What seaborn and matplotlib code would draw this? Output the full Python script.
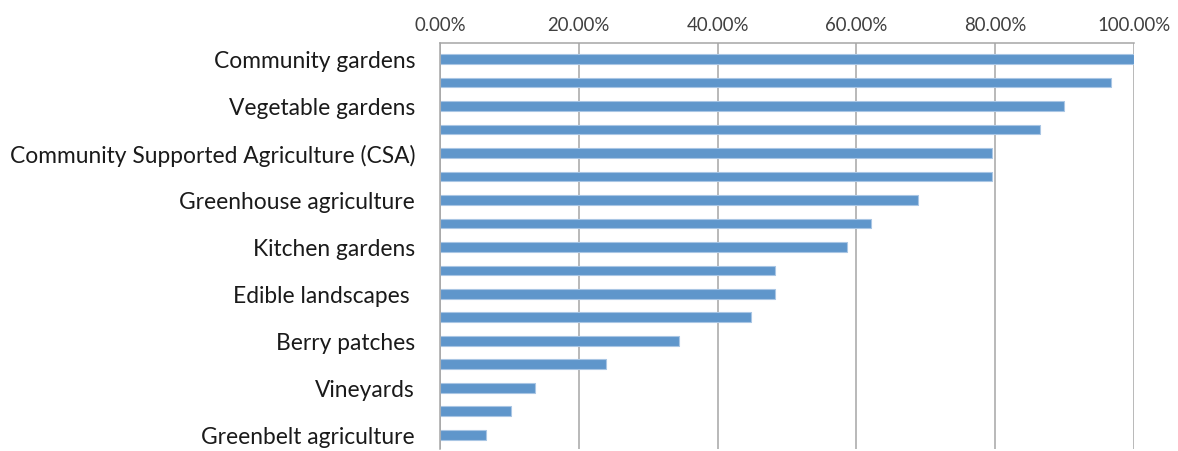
import numpy as np
import pandas as pd
import matplotlib
matplotlib.use("Agg")
import matplotlib.pyplot as plt
import seaborn as sns
from matplotlib.ticker import PercentFormatter, FixedLocator

# Excel only labelled every other category; the blanks are unlabelled rows
labels = [
    "Community gardens", "",
    "Vegetable gardens", "",
    "Community Supported Agriculture (CSA)", "",
    "Greenhouse agriculture", "",
    "Kitchen gardens", "",
    "Edible landscapes ", "",
    "Berry patches", "",
    "Vineyards", "",
    "Greenbelt agriculture",
]
values = [100.0, 96.7, 89.9, 86.5, 79.6, 79.6, 68.9, 62.1, 58.6,
          48.3, 48.3, 44.8, 34.5, 23.9, 13.65, 10.2, 6.7]

df = pd.DataFrame({"pos": np.arange(len(values)), "share": values})

sns.set_style("white")
plt.rcParams["font.family"] = ["Lato", "DejaVu Sans"]

fig = plt.figure(figsize=(11.78, 4.52), dpi=100)
ax = fig.add_axes([440 / 1178, 2 / 452, 694 / 1178, 406 / 452])

sns.barplot(data=df, x="share", y="pos", orient="h", color="#5f96cb",
            edgecolor="#a9c6e4", linewidth=0.8, width=0.42, saturation=1,
            ax=ax)

ax.set_xlim(0, 100)
ax.set_ylim(len(values) - 0.4, -0.68)
ax.xaxis.set_major_locator(FixedLocator([0, 20, 40, 60, 80, 100]))
ax.xaxis.set_major_formatter(PercentFormatter(decimals=2))
ax.xaxis.tick_top()
ax.tick_params(axis="x", length=0, labelsize=13.4, colors="#404040", pad=7)
ax.grid(axis="x", color="#a6a6a6", linewidth=1.1)
ax.set_axisbelow(True)

ax.set_yticks(np.arange(len(values)))
ax.set_yticklabels(labels)
ax.set_yticks(np.arange(-0.5, len(values), 1), minor=True)
ax.tick_params(axis="y", which="major", length=0, labelsize=16.4,
               colors="#1a1a1a", pad=18)
ax.tick_params(axis="y", which="minor", length=6, color="#a6a6a6", width=1)

ax.set_xlabel("")
ax.set_ylabel("")
for side in ["bottom", "right"]:
    ax.spines[side].set_visible(False)
for side in ["left", "top"]:
    ax.spines[side].set_color("#a6a6a6")
    ax.spines[side].set_linewidth(1.1)

fig.savefig("out.png", dpi=100)
